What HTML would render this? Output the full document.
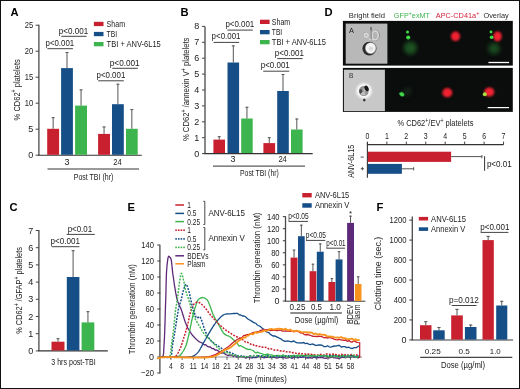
<!DOCTYPE html>
<html><head><meta charset="utf-8"><style>
html,body{margin:0;padding:0;background:#fff;}
body{width:520px;height:389px;overflow:hidden;}
svg{display:block;will-change:transform;}
text{font-family:"Liberation Sans",sans-serif;}
</style></head><body>
<svg width="520" height="389" viewBox="0 0 520 389" font-family="Liberation Sans, sans-serif">
<rect x="0" y="0" width="520" height="389" fill="#fff"/>
<text x="10.4" y="16.4" font-size="11.2" fill="#000" font-weight="bold">A</text>
<line x1="38.9" y1="24.8" x2="38.9" y2="155.2" stroke="#4a4a4a" stroke-width="1.3"/>
<line x1="35.6" y1="155.2" x2="38.9" y2="155.2" stroke="#444" stroke-width="1"/>
<text x="33.3" y="158.2" font-size="9.5" fill="#222" text-anchor="end" textLength="5.02" lengthAdjust="spacingAndGlyphs">0</text>
<line x1="35.6" y1="129.2" x2="38.9" y2="129.2" stroke="#444" stroke-width="1"/>
<text x="33.3" y="132.2" font-size="9.5" fill="#222" text-anchor="end" textLength="5.02" lengthAdjust="spacingAndGlyphs">5</text>
<line x1="35.6" y1="103.19999999999999" x2="38.9" y2="103.19999999999999" stroke="#444" stroke-width="1"/>
<text x="33.3" y="106.19999999999999" font-size="9.5" fill="#222" text-anchor="end" textLength="8.45" lengthAdjust="spacingAndGlyphs">10</text>
<line x1="35.6" y1="77.19999999999999" x2="38.9" y2="77.19999999999999" stroke="#444" stroke-width="1"/>
<text x="33.3" y="80.19999999999999" font-size="9.5" fill="#222" text-anchor="end" textLength="8.45" lengthAdjust="spacingAndGlyphs">15</text>
<line x1="35.6" y1="51.19999999999999" x2="38.9" y2="51.19999999999999" stroke="#444" stroke-width="1"/>
<text x="33.3" y="54.19999999999999" font-size="9.5" fill="#222" text-anchor="end" textLength="8.45" lengthAdjust="spacingAndGlyphs">20</text>
<line x1="35.6" y1="25.19999999999999" x2="38.9" y2="25.19999999999999" stroke="#444" stroke-width="1"/>
<text x="33.3" y="28.19999999999999" font-size="9.5" fill="#222" text-anchor="end" textLength="8.45" lengthAdjust="spacingAndGlyphs">25</text>
<line x1="38.3" y1="155.2" x2="141.7" y2="155.2" stroke="#333" stroke-width="1.1"/>
<rect x="47.2" y="128.8" width="11.899999999999999" height="26.0" fill="#c8202f"/>
<line x1="53.150000000000006" y1="117.2" x2="53.150000000000006" y2="128.8" stroke="#555" stroke-width="1"/>
<line x1="51.650000000000006" y1="117.7" x2="54.650000000000006" y2="117.7" stroke="#555" stroke-width="1"/>
<rect x="61.1" y="68.1" width="11.800000000000004" height="86.70000000000002" fill="#164f88"/>
<line x1="67.0" y1="52" x2="67.0" y2="68.1" stroke="#555" stroke-width="1"/>
<line x1="65.5" y1="52.5" x2="68.5" y2="52.5" stroke="#555" stroke-width="1"/>
<rect x="75.1" y="105.6" width="11.900000000000006" height="49.20000000000002" fill="#3db54e"/>
<line x1="81.05" y1="89.4" x2="81.05" y2="105.6" stroke="#555" stroke-width="1"/>
<line x1="79.55" y1="89.9" x2="82.55" y2="89.9" stroke="#555" stroke-width="1"/>
<rect x="98.1" y="133.9" width="11.900000000000006" height="20.900000000000006" fill="#c8202f"/>
<line x1="104.05" y1="126.5" x2="104.05" y2="133.9" stroke="#555" stroke-width="1"/>
<line x1="102.55" y1="127.0" x2="105.55" y2="127.0" stroke="#555" stroke-width="1"/>
<rect x="112" y="104.2" width="11.799999999999997" height="50.60000000000001" fill="#164f88"/>
<line x1="117.9" y1="83.7" x2="117.9" y2="104.2" stroke="#555" stroke-width="1"/>
<line x1="116.4" y1="84.2" x2="119.4" y2="84.2" stroke="#555" stroke-width="1"/>
<rect x="126" y="128.8" width="11.699999999999989" height="26.0" fill="#3db54e"/>
<line x1="131.85" y1="109.1" x2="131.85" y2="128.8" stroke="#555" stroke-width="1"/>
<line x1="130.35" y1="109.6" x2="133.35" y2="109.6" stroke="#555" stroke-width="1"/>
<text x="45.5" y="46" font-size="9" fill="#222" textLength="28.7" lengthAdjust="spacingAndGlyphs">p&lt;0.001</text>
<line x1="47.4" y1="48.7" x2="72.9" y2="48.7" stroke="#444" stroke-width="1"/>
<text x="58.8" y="33.9" font-size="9" fill="#222" textLength="29.4" lengthAdjust="spacingAndGlyphs">p&lt;0.001</text>
<line x1="61.3" y1="36.3" x2="86.6" y2="36.3" stroke="#444" stroke-width="1"/>
<text x="96.5" y="78.2" font-size="9" fill="#222" textLength="28.8" lengthAdjust="spacingAndGlyphs">p&lt;0.001</text>
<line x1="98.2" y1="80.8" x2="123.8" y2="80.8" stroke="#444" stroke-width="1"/>
<text x="109.8" y="66" font-size="9" fill="#222" textLength="29.9" lengthAdjust="spacingAndGlyphs">p&lt;0.001</text>
<line x1="112.3" y1="68.3" x2="137.8" y2="68.3" stroke="#444" stroke-width="1"/>
<rect x="93.9" y="21.8" width="9.6" height="4.3" fill="#c8202f"/>
<text x="106.6" y="26.700000000000003" font-size="8.6" fill="#222" textLength="18.4" lengthAdjust="spacingAndGlyphs">Sham</text>
<rect x="93.9" y="31.9" width="9.6" height="4.3" fill="#164f88"/>
<text x="106.6" y="36.8" font-size="8.6" fill="#222" textLength="10.4" lengthAdjust="spacingAndGlyphs">TBI</text>
<rect x="93.9" y="42" width="9.6" height="4.3" fill="#3db54e"/>
<text x="106.6" y="46.9" font-size="8.6" fill="#222" textLength="54.2" lengthAdjust="spacingAndGlyphs">TBI + ANV-6L15</text>
<text x="67" y="164.9" font-size="9.5" fill="#222" text-anchor="middle" textLength="5.02" lengthAdjust="spacingAndGlyphs">3</text>
<text x="117.5" y="164.9" font-size="9.5" fill="#222" text-anchor="middle" textLength="8.45" lengthAdjust="spacingAndGlyphs">24</text>
<line x1="47.5" y1="168.9" x2="139" y2="168.9" stroke="#787878" stroke-width="1.5"/>
<text x="73.8" y="179.5" font-size="9" fill="#222" textLength="39.5" lengthAdjust="spacingAndGlyphs">Post TBI (hr)</text>
<text x="19.6" y="89.8" font-size="9.2" fill="#222" text-anchor="middle" textLength="61.2" lengthAdjust="spacingAndGlyphs" transform="rotate(-90 19.6 89.8)">% CD62<tspan dy="-3.3" font-size="6.4">+</tspan><tspan dy="3.3"> platelets</tspan></text>
<text x="180.4" y="16" font-size="11.2" fill="#000" font-weight="bold">B</text>
<line x1="205" y1="26.4" x2="205" y2="153.6" stroke="#4a4a4a" stroke-width="1.3"/>
<line x1="202" y1="153.6" x2="205" y2="153.6" stroke="#444" stroke-width="1"/>
<text x="199.3" y="156.6" font-size="9.5" fill="#222" text-anchor="end" textLength="5.02" lengthAdjust="spacingAndGlyphs">0</text>
<line x1="202" y1="137.7" x2="205" y2="137.7" stroke="#444" stroke-width="1"/>
<text x="199.3" y="140.7" font-size="9.5" fill="#222" text-anchor="end" textLength="5.02" lengthAdjust="spacingAndGlyphs">1</text>
<line x1="202" y1="121.8" x2="205" y2="121.8" stroke="#444" stroke-width="1"/>
<text x="199.3" y="124.8" font-size="9.5" fill="#222" text-anchor="end" textLength="5.02" lengthAdjust="spacingAndGlyphs">2</text>
<line x1="202" y1="105.89999999999999" x2="205" y2="105.89999999999999" stroke="#444" stroke-width="1"/>
<text x="199.3" y="108.89999999999999" font-size="9.5" fill="#222" text-anchor="end" textLength="5.02" lengthAdjust="spacingAndGlyphs">3</text>
<line x1="202" y1="90.0" x2="205" y2="90.0" stroke="#444" stroke-width="1"/>
<text x="199.3" y="93.0" font-size="9.5" fill="#222" text-anchor="end" textLength="5.02" lengthAdjust="spacingAndGlyphs">4</text>
<line x1="202" y1="74.1" x2="205" y2="74.1" stroke="#444" stroke-width="1"/>
<text x="199.3" y="77.1" font-size="9.5" fill="#222" text-anchor="end" textLength="5.02" lengthAdjust="spacingAndGlyphs">5</text>
<line x1="202" y1="58.19999999999999" x2="205" y2="58.19999999999999" stroke="#444" stroke-width="1"/>
<text x="199.3" y="61.19999999999999" font-size="9.5" fill="#222" text-anchor="end" textLength="5.02" lengthAdjust="spacingAndGlyphs">6</text>
<line x1="202" y1="42.3" x2="205" y2="42.3" stroke="#444" stroke-width="1"/>
<text x="199.3" y="45.3" font-size="9.5" fill="#222" text-anchor="end" textLength="5.02" lengthAdjust="spacingAndGlyphs">7</text>
<line x1="202" y1="26.39999999999999" x2="205" y2="26.39999999999999" stroke="#444" stroke-width="1"/>
<text x="199.3" y="29.39999999999999" font-size="9.5" fill="#222" text-anchor="end" textLength="5.02" lengthAdjust="spacingAndGlyphs">8</text>
<line x1="204.5" y1="153.6" x2="312.7" y2="153.6" stroke="#333" stroke-width="1.1"/>
<rect x="213.4" y="139.6" width="11.599999999999994" height="13.400000000000006" fill="#c8202f"/>
<line x1="219.2" y1="136.2" x2="219.2" y2="139.6" stroke="#555" stroke-width="1"/>
<line x1="217.7" y1="136.7" x2="220.7" y2="136.7" stroke="#555" stroke-width="1"/>
<rect x="227.5" y="62.5" width="11.599999999999994" height="90.5" fill="#164f88"/>
<line x1="233.3" y1="45.4" x2="233.3" y2="62.5" stroke="#555" stroke-width="1"/>
<line x1="231.8" y1="45.9" x2="234.8" y2="45.9" stroke="#555" stroke-width="1"/>
<rect x="241.2" y="118.5" width="11.5" height="34.5" fill="#3db54e"/>
<line x1="246.95" y1="106.8" x2="246.95" y2="118.5" stroke="#555" stroke-width="1"/>
<line x1="245.45" y1="107.3" x2="248.45" y2="107.3" stroke="#555" stroke-width="1"/>
<rect x="263.4" y="143.1" width="11.700000000000045" height="9.900000000000006" fill="#c8202f"/>
<line x1="269.25" y1="137.2" x2="269.25" y2="143.1" stroke="#555" stroke-width="1"/>
<line x1="267.75" y1="137.7" x2="270.75" y2="137.7" stroke="#555" stroke-width="1"/>
<rect x="277.2" y="91" width="11.600000000000023" height="62" fill="#164f88"/>
<line x1="283.0" y1="74" x2="283.0" y2="91" stroke="#555" stroke-width="1"/>
<line x1="281.5" y1="74.5" x2="284.5" y2="74.5" stroke="#555" stroke-width="1"/>
<rect x="291" y="129.5" width="11.600000000000023" height="23.5" fill="#3db54e"/>
<line x1="296.8" y1="118.5" x2="296.8" y2="129.5" stroke="#555" stroke-width="1"/>
<line x1="295.3" y1="119.0" x2="298.3" y2="119.0" stroke="#555" stroke-width="1"/>
<text x="225.4" y="27.1" font-size="9" fill="#222" textLength="28.9" lengthAdjust="spacingAndGlyphs">p&lt;0.001</text>
<line x1="227.4" y1="30.1" x2="252.8" y2="30.1" stroke="#444" stroke-width="1"/>
<text x="211.6" y="39.3" font-size="9" fill="#222" textLength="28.9" lengthAdjust="spacingAndGlyphs">p&lt;0.001</text>
<line x1="213.5" y1="42.4" x2="239.2" y2="42.4" stroke="#444" stroke-width="1"/>
<text x="274.8" y="56.1" font-size="9" fill="#222" textLength="29.2" lengthAdjust="spacingAndGlyphs">p&lt;0.001</text>
<line x1="277.2" y1="58.6" x2="302.6" y2="58.6" stroke="#444" stroke-width="1"/>
<text x="260.8" y="68.2" font-size="9" fill="#222" textLength="29.0" lengthAdjust="spacingAndGlyphs">p&lt;0.001</text>
<line x1="263.2" y1="71.2" x2="289.2" y2="71.2" stroke="#444" stroke-width="1"/>
<rect x="260" y="19.7" width="9.6" height="4.3" fill="#c8202f"/>
<text x="271.8" y="24.6" font-size="8.6" fill="#222" textLength="18.4" lengthAdjust="spacingAndGlyphs">Sham</text>
<rect x="260" y="30" width="9.6" height="4.3" fill="#164f88"/>
<text x="271.8" y="34.9" font-size="8.6" fill="#222" textLength="10.4" lengthAdjust="spacingAndGlyphs">TBI</text>
<rect x="260" y="40" width="9.6" height="4.3" fill="#3db54e"/>
<text x="271.8" y="44.9" font-size="8.6" fill="#222" textLength="54.2" lengthAdjust="spacingAndGlyphs">TBI + ANV-6L15</text>
<text x="233" y="162.2" font-size="9.5" fill="#222" text-anchor="middle" textLength="5.02" lengthAdjust="spacingAndGlyphs">3</text>
<text x="282.6" y="162.2" font-size="9.5" fill="#222" text-anchor="middle" textLength="8.45" lengthAdjust="spacingAndGlyphs">24</text>
<line x1="213" y1="166.1" x2="305" y2="166.1" stroke="#5c5c5c" stroke-width="1.3"/>
<text x="240" y="176" font-size="9" fill="#222" textLength="38.8" lengthAdjust="spacingAndGlyphs">Post TBI (hr)</text>
<text x="189" y="89.3" font-size="9.2" fill="#222" text-anchor="middle" textLength="103.5" lengthAdjust="spacingAndGlyphs" transform="rotate(-90 189 89.3)">% CD62<tspan dy="-3.3" font-size="6.4">+</tspan><tspan dy="3.3"> /annexin V</tspan><tspan dy="-3.3" font-size="6.4">+</tspan><tspan dy="3.3"> platelets</tspan></text>
<text x="9.4" y="210.7" font-size="11.2" fill="#000" font-weight="bold">C</text>
<line x1="38.9" y1="230" x2="38.9" y2="350.9" stroke="#4a4a4a" stroke-width="1.3"/>
<line x1="35.8" y1="350.9" x2="38.9" y2="350.9" stroke="#444" stroke-width="1"/>
<text x="33.3" y="353.9" font-size="9.5" fill="#222" text-anchor="end" textLength="5.02" lengthAdjust="spacingAndGlyphs">0</text>
<line x1="35.8" y1="333.7" x2="38.9" y2="333.7" stroke="#444" stroke-width="1"/>
<text x="33.3" y="336.7" font-size="9.5" fill="#222" text-anchor="end" textLength="5.02" lengthAdjust="spacingAndGlyphs">1</text>
<line x1="35.8" y1="316.5" x2="38.9" y2="316.5" stroke="#444" stroke-width="1"/>
<text x="33.3" y="319.5" font-size="9.5" fill="#222" text-anchor="end" textLength="5.02" lengthAdjust="spacingAndGlyphs">2</text>
<line x1="35.8" y1="299.29999999999995" x2="38.9" y2="299.29999999999995" stroke="#444" stroke-width="1"/>
<text x="33.3" y="302.29999999999995" font-size="9.5" fill="#222" text-anchor="end" textLength="5.02" lengthAdjust="spacingAndGlyphs">3</text>
<line x1="35.8" y1="282.09999999999997" x2="38.9" y2="282.09999999999997" stroke="#444" stroke-width="1"/>
<text x="33.3" y="285.09999999999997" font-size="9.5" fill="#222" text-anchor="end" textLength="5.02" lengthAdjust="spacingAndGlyphs">4</text>
<line x1="35.8" y1="264.9" x2="38.9" y2="264.9" stroke="#444" stroke-width="1"/>
<text x="33.3" y="267.9" font-size="9.5" fill="#222" text-anchor="end" textLength="5.02" lengthAdjust="spacingAndGlyphs">5</text>
<line x1="35.8" y1="247.7" x2="38.9" y2="247.7" stroke="#444" stroke-width="1"/>
<text x="33.3" y="250.7" font-size="9.5" fill="#222" text-anchor="end" textLength="5.02" lengthAdjust="spacingAndGlyphs">6</text>
<line x1="35.8" y1="230.5" x2="38.9" y2="230.5" stroke="#444" stroke-width="1"/>
<text x="33.3" y="233.5" font-size="9.5" fill="#222" text-anchor="end" textLength="5.02" lengthAdjust="spacingAndGlyphs">7</text>
<line x1="38.3" y1="350.9" x2="107.8" y2="350.9" stroke="#333" stroke-width="1.1"/>
<rect x="51.5" y="341.7" width="13.0" height="8.800000000000011" fill="#c8202f"/>
<line x1="58.0" y1="338.2" x2="58.0" y2="341.7" stroke="#555" stroke-width="1"/>
<line x1="56.5" y1="338.7" x2="59.5" y2="338.7" stroke="#555" stroke-width="1"/>
<rect x="66.8" y="277" width="12.600000000000009" height="73.5" fill="#164f88"/>
<line x1="73.1" y1="250.2" x2="73.1" y2="277" stroke="#555" stroke-width="1"/>
<line x1="71.6" y1="250.7" x2="74.6" y2="250.7" stroke="#555" stroke-width="1"/>
<rect x="81.6" y="322.4" width="12.700000000000003" height="28.100000000000023" fill="#3db54e"/>
<line x1="87.94999999999999" y1="311.2" x2="87.94999999999999" y2="322.4" stroke="#555" stroke-width="1"/>
<line x1="86.44999999999999" y1="311.7" x2="89.44999999999999" y2="311.7" stroke="#555" stroke-width="1"/>
<text x="50.6" y="243.6" font-size="9" fill="#222" textLength="29.4" lengthAdjust="spacingAndGlyphs">p&lt;0.001</text>
<line x1="51.6" y1="246.7" x2="79.4" y2="246.7" stroke="#444" stroke-width="1"/>
<text x="67.7" y="231.8" font-size="9" fill="#222" textLength="24.4" lengthAdjust="spacingAndGlyphs">p&lt;0.01</text>
<line x1="66.6" y1="234.4" x2="94.8" y2="234.4" stroke="#444" stroke-width="1"/>
<text x="51.3" y="364.6" font-size="9" fill="#222" textLength="44.4" lengthAdjust="spacingAndGlyphs">3 hrs post-TBI</text>
<text x="22" y="290.4" font-size="9.2" fill="#222" text-anchor="middle" textLength="86.7" lengthAdjust="spacingAndGlyphs" transform="rotate(-90 22 290.4)">% CD62<tspan dy="-3.3" font-size="6.4">+</tspan><tspan dy="3.3"> /GFAP</tspan><tspan dy="-3.3" font-size="6.4">+</tspan><tspan dy="3.3"> platelets</tspan></text>
<text x="324.4" y="15.8" font-size="11.2" fill="#000" font-weight="bold">D</text>
<text x="348.8" y="18" font-size="7.9" fill="#2a2a2a" textLength="36.2" lengthAdjust="spacingAndGlyphs">Bright field</text>
<text x="393.8" y="18" font-size="7.9" fill="#3db54e" textLength="36.2" lengthAdjust="spacingAndGlyphs">GFP<tspan dy="-3" font-size="5.8">+</tspan><tspan dy="3">exMT</tspan></text>
<text x="435.8" y="18" font-size="7.9" fill="#d2203a" textLength="43.5" lengthAdjust="spacingAndGlyphs">APC-CD41a<tspan dy="-3" font-size="5.8">+</tspan></text>
<text x="483.4" y="18" font-size="7.9" fill="#2a2a2a" textLength="25.4" lengthAdjust="spacingAndGlyphs">Overlay</text>
<defs>
<filter id="b1" x="-50%" y="-50%" width="200%" height="200%"><feGaussianBlur stdDeviation="1.1"/></filter>
<filter id="b2" x="-50%" y="-50%" width="200%" height="200%"><feGaussianBlur stdDeviation="0.6"/></filter>
<filter id="b4" x="-50%" y="-50%" width="200%" height="200%"><feGaussianBlur stdDeviation="0.9"/></filter>
<filter id="b3" x="-50%" y="-50%" width="200%" height="200%"><feGaussianBlur stdDeviation="2"/></filter>
</defs>
<rect x="342.9" y="20.9" width="169.9" height="44.7" fill="#0b0d0c"/>
<rect x="345.7" y="23.6" width="41.7" height="40.1" fill="#b8b8b8"/>
<g filter="url(#b2)"><ellipse cx="369.3" cy="48.6" rx="6.9" ry="6.8" fill="#2a2a2a"/><ellipse cx="370.9" cy="48.2" rx="5.9" ry="6" fill="#7a7a7a"/><ellipse cx="370.6" cy="48.1" rx="5.1" ry="5.3" fill="#f4f4f4"/><ellipse cx="371" cy="48.6" rx="2.3" ry="2.2" fill="#dadada"/></g>
<g filter="url(#b2)" opacity="0.8"><circle cx="366.2" cy="35.2" r="2.9" fill="none" stroke="#8a8a8a" stroke-width="0.8"/><circle cx="366.2" cy="35.2" r="2.1" fill="#c4c4c4" stroke="#e8e8e8" stroke-width="1.2"/><ellipse cx="375.6" cy="35.4" rx="3.9" ry="5.2" fill="none" stroke="#7c7c7c" stroke-width="0.8"/><ellipse cx="375.2" cy="35.4" rx="3" ry="4.4" fill="#b4b4b4" stroke="#e4e4e4" stroke-width="1.3"/><path d="M371 27.2 L371.3 41.5" stroke="#7e7e7e" stroke-width="1.1"/><path d="M371 27 L371.1 30.5" stroke="#5a5a5a" stroke-width="1.5"/><path d="M368.5 38.5 Q371 41 373.5 39.5" stroke="#dcdcdc" stroke-width="1" fill="none"/></g>
<text x="349" y="32.8" font-size="7.3" fill="#1a1a1a" textLength="4.9" lengthAdjust="spacingAndGlyphs">A</text>
<g filter="url(#b2)"><circle cx="407.5" cy="32" r="1.5" fill="#3fe04a"/><circle cx="408.2" cy="37.4" r="2" fill="#3fe04a"/></g>
<ellipse cx="410.4" cy="48" rx="6.5" ry="6.5" fill="#236a2c" opacity="0.75" filter="url(#b3)"/>
<ellipse cx="455.5" cy="36.3" rx="4.6" ry="4.8" fill="#f02030" filter="url(#b1)"/>
<ellipse cx="494" cy="48.5" rx="5.8" ry="5.8" fill="#236a2c" opacity="0.65" filter="url(#b3)"/>
<ellipse cx="497.5" cy="36.4" rx="4.2" ry="5" fill="#f02030" filter="url(#b1)"/>
<g filter="url(#b2)"><circle cx="491" cy="32" r="1.4" fill="#3fe04a"/><circle cx="491.6" cy="37.3" r="1.8" fill="#3fe04a"/></g>
<line x1="488.4" y1="62.5" x2="509.1" y2="62.5" stroke="#fff" stroke-width="1.3"/>
<rect x="342.9" y="67.9" width="169.9" height="44" fill="#0b0d0c"/>
<rect x="343.9" y="69.7" width="41" height="41.4" fill="#c8c8c8"/>
<circle cx="364" cy="90.9" r="7.7" fill="#fafafa" filter="url(#b4)"/>
<g filter="url(#b2)"><ellipse cx="363.8" cy="91.1" rx="4.9" ry="5" fill="#929292"/><ellipse cx="363.2" cy="93.6" rx="2.4" ry="1.5" fill="#c4c4c4"/><ellipse cx="364.6" cy="90" rx="1.2" ry="2" fill="#bdbdbd"/><ellipse cx="360.7" cy="91.3" rx="1.4" ry="2.4" fill="#4a4a4a"/><ellipse cx="366.6" cy="88.4" rx="1.9" ry="3" fill="#141414" transform="rotate(-25 366.6 88.4)"/><circle cx="364.3" cy="100.1" r="1.3" fill="#333"/></g>
<text x="349" y="78.4" font-size="7.3" fill="#333" textLength="4.4" lengthAdjust="spacingAndGlyphs">B</text>
<ellipse cx="407.3" cy="91.5" rx="4" ry="4" fill="#1f3a22" opacity="0.5" filter="url(#b3)"/>
<ellipse cx="401.8" cy="94.3" rx="2.6" ry="2" fill="#3fe04a" filter="url(#b2)" transform="rotate(30 401.8 94.3)"/>
<ellipse cx="447.3" cy="92.7" rx="5" ry="4.6" fill="#f02030" filter="url(#b1)"/>
<ellipse cx="489.3" cy="92" rx="5" ry="4.6" fill="#f02030" filter="url(#b1)"/>
<ellipse cx="484.8" cy="94.2" rx="2" ry="2" fill="#a8e040" filter="url(#b2)"/>
<line x1="487.7" y1="107.6" x2="509" y2="107.6" stroke="#fff" stroke-width="1.2"/>
<text x="397.4" y="125.9" font-size="9.2" fill="#222" textLength="76" lengthAdjust="spacingAndGlyphs">% CD62<tspan dy="-3.3" font-size="6.4">+</tspan><tspan dy="3.3">/EV</tspan><tspan dy="-3.3" font-size="6.4">+</tspan><tspan dy="3.3"> platelets</tspan></text>
<line x1="367.4" y1="144.6" x2="503.6" y2="144.6" stroke="#333" stroke-width="1.1"/>
<line x1="367.4" y1="141.6" x2="367.4" y2="144.6" stroke="#444" stroke-width="1"/>
<text x="367.4" y="138.5" font-size="8.2" fill="#222" text-anchor="middle" textLength="3.88" lengthAdjust="spacingAndGlyphs">0</text>
<line x1="386.84999999999997" y1="141.6" x2="386.84999999999997" y2="144.6" stroke="#444" stroke-width="1"/>
<text x="386.84999999999997" y="138.5" font-size="8.2" fill="#222" text-anchor="middle" textLength="3.88" lengthAdjust="spacingAndGlyphs">1</text>
<line x1="406.29999999999995" y1="141.6" x2="406.29999999999995" y2="144.6" stroke="#444" stroke-width="1"/>
<text x="406.29999999999995" y="138.5" font-size="8.2" fill="#222" text-anchor="middle" textLength="3.88" lengthAdjust="spacingAndGlyphs">2</text>
<line x1="425.75" y1="141.6" x2="425.75" y2="144.6" stroke="#444" stroke-width="1"/>
<text x="425.75" y="138.5" font-size="8.2" fill="#222" text-anchor="middle" textLength="3.88" lengthAdjust="spacingAndGlyphs">3</text>
<line x1="445.2" y1="141.6" x2="445.2" y2="144.6" stroke="#444" stroke-width="1"/>
<text x="445.2" y="138.5" font-size="8.2" fill="#222" text-anchor="middle" textLength="3.88" lengthAdjust="spacingAndGlyphs">4</text>
<line x1="464.65" y1="141.6" x2="464.65" y2="144.6" stroke="#444" stroke-width="1"/>
<text x="464.65" y="138.5" font-size="8.2" fill="#222" text-anchor="middle" textLength="3.88" lengthAdjust="spacingAndGlyphs">5</text>
<line x1="484.09999999999997" y1="141.6" x2="484.09999999999997" y2="144.6" stroke="#444" stroke-width="1"/>
<text x="484.09999999999997" y="138.5" font-size="8.2" fill="#222" text-anchor="middle" textLength="3.88" lengthAdjust="spacingAndGlyphs">6</text>
<line x1="503.54999999999995" y1="141.6" x2="503.54999999999995" y2="144.6" stroke="#444" stroke-width="1"/>
<text x="503.54999999999995" y="138.5" font-size="8.2" fill="#222" text-anchor="middle" textLength="3.88" lengthAdjust="spacingAndGlyphs">7</text>
<line x1="367.4" y1="142.5" x2="367.4" y2="177.7" stroke="#333" stroke-width="1.1"/>
<rect x="367.9" y="151.7" width="83.20000000000005" height="10.2" fill="#c8202f"/>
<rect x="367.9" y="163.9" width="34.0" height="9.9" fill="#164f88"/>
<line x1="451.1" y1="156.6" x2="481.9" y2="156.6" stroke="#555" stroke-width="1"/>
<line x1="481.9" y1="155" x2="481.9" y2="158.2" stroke="#555" stroke-width="1"/>
<line x1="401.9" y1="168.8" x2="413.7" y2="168.8" stroke="#555" stroke-width="1"/>
<line x1="413.7" y1="167.2" x2="413.7" y2="170.4" stroke="#555" stroke-width="1"/>
<line x1="484.6" y1="156.2" x2="484.6" y2="170.8" stroke="#333" stroke-width="1"/>
<text x="486.9" y="166.7" font-size="9" fill="#222" textLength="24.8" lengthAdjust="spacingAndGlyphs">p&lt;0.01</text>
<line x1="360.6" y1="157.1" x2="363.8" y2="157.1" stroke="#444" stroke-width="0.9"/>
<line x1="360.8" y1="168.7" x2="364" y2="168.7" stroke="#444" stroke-width="0.9"/>
<line x1="362.4" y1="167.1" x2="362.4" y2="170.3" stroke="#444" stroke-width="0.9"/>
<text x="353.6" y="161.2" font-size="9.4" fill="#222" text-anchor="middle" textLength="33" lengthAdjust="spacingAndGlyphs" transform="rotate(-90 353.6 161.2)">ANV-6L15</text>
<text x="127.4" y="210.7" font-size="11.2" fill="#000" font-weight="bold">E</text>
<line x1="159.9" y1="245.2" x2="159.9" y2="373.3" stroke="#4a4a4a" stroke-width="1.3"/>
<line x1="157.3" y1="373.0" x2="160.3" y2="373.0" stroke="#3a3a3a" stroke-width="1"/>
<text x="154" y="376.1" font-size="9.5" fill="#222" text-anchor="end" textLength="12.89" lengthAdjust="spacingAndGlyphs">&#8722;20</text>
<line x1="157.3" y1="357.0" x2="160.3" y2="357.0" stroke="#3a3a3a" stroke-width="1"/>
<text x="154" y="360.1" font-size="9.5" fill="#222" text-anchor="end" textLength="5.02" lengthAdjust="spacingAndGlyphs">0</text>
<line x1="157.3" y1="341.0" x2="160.3" y2="341.0" stroke="#3a3a3a" stroke-width="1"/>
<text x="154" y="344.1" font-size="9.5" fill="#222" text-anchor="end" textLength="8.45" lengthAdjust="spacingAndGlyphs">20</text>
<line x1="157.3" y1="325.0" x2="160.3" y2="325.0" stroke="#3a3a3a" stroke-width="1"/>
<text x="154" y="328.1" font-size="9.5" fill="#222" text-anchor="end" textLength="8.45" lengthAdjust="spacingAndGlyphs">40</text>
<line x1="157.3" y1="309.0" x2="160.3" y2="309.0" stroke="#3a3a3a" stroke-width="1"/>
<text x="154" y="312.1" font-size="9.5" fill="#222" text-anchor="end" textLength="8.45" lengthAdjust="spacingAndGlyphs">60</text>
<line x1="157.3" y1="293.0" x2="160.3" y2="293.0" stroke="#3a3a3a" stroke-width="1"/>
<text x="154" y="296.1" font-size="9.5" fill="#222" text-anchor="end" textLength="8.45" lengthAdjust="spacingAndGlyphs">80</text>
<line x1="157.3" y1="277.0" x2="160.3" y2="277.0" stroke="#3a3a3a" stroke-width="1"/>
<text x="154" y="280.1" font-size="9.5" fill="#222" text-anchor="end" textLength="12.68" lengthAdjust="spacingAndGlyphs">100</text>
<line x1="157.3" y1="261.0" x2="160.3" y2="261.0" stroke="#3a3a3a" stroke-width="1"/>
<text x="154" y="264.1" font-size="9.5" fill="#222" text-anchor="end" textLength="12.68" lengthAdjust="spacingAndGlyphs">120</text>
<line x1="157.3" y1="245.0" x2="160.3" y2="245.0" stroke="#3a3a3a" stroke-width="1"/>
<text x="154" y="248.1" font-size="9.5" fill="#222" text-anchor="end" textLength="12.68" lengthAdjust="spacingAndGlyphs">140</text>
<line x1="160" y1="357" x2="362" y2="357" stroke="#777" stroke-width="0.8"/>
<line x1="170.9" y1="357" x2="170.9" y2="359.8" stroke="#444" stroke-width="0.9"/>
<text x="170.9" y="368.8" font-size="8.3" fill="#222" text-anchor="middle" textLength="3.78" lengthAdjust="spacingAndGlyphs">4</text>
<line x1="182.12" y1="357" x2="182.12" y2="359.8" stroke="#444" stroke-width="0.9"/>
<text x="182.12" y="368.8" font-size="8.3" fill="#222" text-anchor="middle" textLength="3.78" lengthAdjust="spacingAndGlyphs">8</text>
<line x1="193.34" y1="357" x2="193.34" y2="359.8" stroke="#444" stroke-width="0.9"/>
<text x="193.34" y="368.8" font-size="8.3" fill="#222" text-anchor="middle" textLength="7.06" lengthAdjust="spacingAndGlyphs">11</text>
<line x1="204.56" y1="357" x2="204.56" y2="359.8" stroke="#444" stroke-width="0.9"/>
<text x="204.56" y="368.8" font-size="8.3" fill="#222" text-anchor="middle" textLength="7.57" lengthAdjust="spacingAndGlyphs">14</text>
<line x1="215.78" y1="357" x2="215.78" y2="359.8" stroke="#444" stroke-width="0.9"/>
<text x="215.78" y="368.8" font-size="8.3" fill="#222" text-anchor="middle" textLength="7.57" lengthAdjust="spacingAndGlyphs">18</text>
<line x1="227.0" y1="357" x2="227.0" y2="359.8" stroke="#444" stroke-width="0.9"/>
<text x="227.0" y="368.8" font-size="8.3" fill="#222" text-anchor="middle" textLength="7.57" lengthAdjust="spacingAndGlyphs">21</text>
<line x1="238.22000000000003" y1="357" x2="238.22000000000003" y2="359.8" stroke="#444" stroke-width="0.9"/>
<text x="238.22000000000003" y="368.8" font-size="8.3" fill="#222" text-anchor="middle" textLength="7.57" lengthAdjust="spacingAndGlyphs">24</text>
<line x1="249.44" y1="357" x2="249.44" y2="359.8" stroke="#444" stroke-width="0.9"/>
<text x="249.44" y="368.8" font-size="8.3" fill="#222" text-anchor="middle" textLength="7.57" lengthAdjust="spacingAndGlyphs">28</text>
<line x1="260.66" y1="357" x2="260.66" y2="359.8" stroke="#444" stroke-width="0.9"/>
<text x="260.66" y="368.8" font-size="8.3" fill="#222" text-anchor="middle" textLength="7.57" lengthAdjust="spacingAndGlyphs">31</text>
<line x1="271.88" y1="357" x2="271.88" y2="359.8" stroke="#444" stroke-width="0.9"/>
<text x="271.88" y="368.8" font-size="8.3" fill="#222" text-anchor="middle" textLength="7.57" lengthAdjust="spacingAndGlyphs">34</text>
<line x1="283.1" y1="357" x2="283.1" y2="359.8" stroke="#444" stroke-width="0.9"/>
<text x="283.1" y="368.8" font-size="8.3" fill="#222" text-anchor="middle" textLength="7.57" lengthAdjust="spacingAndGlyphs">38</text>
<line x1="294.32" y1="357" x2="294.32" y2="359.8" stroke="#444" stroke-width="0.9"/>
<text x="294.32" y="368.8" font-size="8.3" fill="#222" text-anchor="middle" textLength="7.57" lengthAdjust="spacingAndGlyphs">41</text>
<line x1="305.54" y1="357" x2="305.54" y2="359.8" stroke="#444" stroke-width="0.9"/>
<text x="305.54" y="368.8" font-size="8.3" fill="#222" text-anchor="middle" textLength="7.57" lengthAdjust="spacingAndGlyphs">44</text>
<line x1="316.76" y1="357" x2="316.76" y2="359.8" stroke="#444" stroke-width="0.9"/>
<text x="316.76" y="368.8" font-size="8.3" fill="#222" text-anchor="middle" textLength="7.57" lengthAdjust="spacingAndGlyphs">48</text>
<line x1="327.98" y1="357" x2="327.98" y2="359.8" stroke="#444" stroke-width="0.9"/>
<text x="327.98" y="368.8" font-size="8.3" fill="#222" text-anchor="middle" textLength="7.57" lengthAdjust="spacingAndGlyphs">51</text>
<line x1="339.20000000000005" y1="357" x2="339.20000000000005" y2="359.8" stroke="#444" stroke-width="0.9"/>
<text x="339.20000000000005" y="368.8" font-size="8.3" fill="#222" text-anchor="middle" textLength="7.57" lengthAdjust="spacingAndGlyphs">54</text>
<line x1="350.42" y1="357" x2="350.42" y2="359.8" stroke="#444" stroke-width="0.9"/>
<text x="350.42" y="368.8" font-size="8.3" fill="#222" text-anchor="middle" textLength="7.57" lengthAdjust="spacingAndGlyphs">58</text>
<text x="235.9" y="381.8" font-size="8.8" fill="#222" textLength="50.8" lengthAdjust="spacingAndGlyphs">Time (minutes)</text>
<text x="135.3" y="309.2" font-size="8.6" fill="#222" text-anchor="middle" textLength="90" lengthAdjust="spacingAndGlyphs" transform="rotate(-90 135.3 309.2)">Thrombin generation (nM)</text>
<path d="M160.0 357.5 L162.6 356.5 L163.1 355.6 L163.4 354.4 L163.6 352.9 L163.7 351.1 L163.8 349.2 L163.9 347.2 L164.0 345.0 L164.1 343.9 L164.2 342.7 L164.2 341.4 L164.3 340.1 L164.4 338.7 L164.5 337.2 L164.5 335.7 L164.6 334.1 L164.7 332.5 L164.7 330.9 L164.8 329.2 L164.8 327.5 L164.9 325.7 L165.0 324.0 L165.0 322.2 L165.1 320.4 L165.1 318.6 L165.2 316.8 L165.2 315.0 L165.3 313.3 L165.3 311.5 L165.4 309.8 L165.4 308.0 L165.5 306.4 L165.5 304.7 L165.6 303.1 L165.6 301.5 L165.7 300.0 L165.8 298.3 L165.8 296.5 L165.9 294.7 L165.9 292.9 L166.0 291.1 L166.0 289.3 L166.0 287.6 L166.1 285.8 L166.1 284.0 L166.2 282.3 L166.2 280.6 L166.3 278.9 L166.3 277.2 L166.4 275.6 L166.4 274.1 L166.5 272.6 L166.6 271.1 L166.7 269.7 L166.8 268.4 L166.9 267.2 L167.0 266.0 L167.2 263.8 L167.5 261.6 L167.7 259.6 L168.0 257.9 L168.4 256.7 L168.8 256.2 L170.6 258.0 L171.0 259.0 L171.3 260.2 L171.5 261.7 L171.7 263.4 L171.9 265.2 L172.1 267.1 L172.3 269.1 L172.5 271.1 L172.7 273.1 L173.0 275.0 L173.2 276.6 L173.5 278.2 L173.7 279.9 L174.0 281.7 L174.2 283.5 L174.5 285.3 L174.8 287.1 L175.1 288.9 L175.4 290.7 L175.6 292.4 L176.0 294.1 L176.3 295.7 L176.6 297.3 L176.9 298.7 L177.3 300.0 L177.9 301.8 L178.5 303.4 L179.1 304.8 L179.8 306.2 L180.5 307.6 L181.1 309.2 L181.6 310.6 L182.1 312.1 L182.6 313.7 L183.1 315.3 L183.6 317.0 L184.1 318.6 L184.6 320.2 L185.1 321.7 L185.7 323.1 L186.4 324.8 L187.1 326.4 L187.8 328.0 L188.6 329.5 L189.5 330.9 L190.4 332.4 L191.3 333.7 L192.3 335.0 L193.4 336.2 L194.5 337.5 L195.6 338.6 L196.8 339.8 L198.0 340.8 L199.4 341.9 L201.0 342.5 L202.5 343.1 L204.1 344.8 L205.7 344.6 L207.3 346.3 L208.8 346.8 L210.4 347.0 L212.0 348.6 L213.5 348.5 L215.1 350.0 L216.6 350.0 L218.2 350.8 L219.6 352.0 L221.1 353.4 L222.7 352.7 L224.3 353.4 L226.0 354.6 L227.9 355.5 L229.8 355.2 L231.7 355.2 L233.4 356.5 L235.0 355.2 L236.8 357.2 L238.4 356.7 L240.0 356.9 L242.0 356.9 L244.0 357.2 L246.0 358.1 L248.0 356.9 L250.0 357.6 L252.0 357.8 L254.0 357.3 L256.0 357.6 L258.0 356.7 L260.0 356.7 L262.0 357.0 L264.0 357.8 L266.0 357.4 L268.0 357.2 L270.0 357.7 L272.0 357.4 L274.0 357.1 L276.0 358.0 L278.0 357.9 L280.0 357.0 L282.0 357.6 L284.0 357.5 L286.0 358.2 L288.0 357.9 L290.0 357.1 L292.0 358.4 L294.0 356.8 L296.0 357.4 L298.0 358.0 L300.0 356.9 L302.0 357.5 L304.0 356.7 L306.0 357.8 L308.0 358.0 L310.0 357.6 L312.0 358.2 L314.0 357.2 L316.0 357.9 L318.0 357.7 L320.0 357.6 L322.0 357.4 L324.0 358.1 L326.0 358.3 L328.0 357.5 L330.0 357.8 L332.0 356.7 L334.0 357.9 L336.0 357.8 L338.0 358.4 L340.0 358.1 L342.0 357.1 L344.0 357.3 L346.0 357.8 L348.0 356.6 L350.0 357.4 L352.0 356.9 L354.0 356.8 L356.0 356.7 L358.0 358.0 L360.0 356.8" fill="none" stroke="#5e2a78" stroke-width="1.3" stroke-linejoin="round"/>
<path d="M160.0 357.0 L161.7 357.0 L163.5 357.1 L165.3 357.1 L167.1 357.2 L169.0 357.3 L170.8 357.4 L172.5 357.4 L174.1 357.4 L175.6 357.3 L176.9 357.0 L178.0 356.7 L179.7 355.7 L180.9 354.5 L182.0 353.0 L183.0 351.5 L184.0 349.9 L184.9 348.1 L185.7 346.2 L186.3 344.7 L186.8 343.0 L187.3 341.3 L187.7 339.5 L188.1 337.7 L188.6 335.8 L189.0 334.0 L189.4 332.3 L189.8 330.5 L190.1 328.8 L190.5 327.0 L190.8 325.2 L191.2 323.4 L191.5 321.7 L191.9 320.0 L192.3 318.2 L192.7 316.4 L193.2 314.7 L193.6 312.9 L194.1 311.2 L194.5 309.6 L195.0 308.0 L195.6 306.2 L196.1 304.4 L196.7 302.7 L197.3 301.2 L198.0 300.0 L199.2 298.8 L200.5 298.0 L202.7 297.5 L205.0 298.2 L207.3 300.0 L208.0 301.2 L208.7 302.7 L209.3 304.3 L210.0 306.0 L210.6 307.4 L211.1 309.0 L211.6 310.5 L212.2 312.2 L212.8 313.8 L213.5 315.4 L214.3 316.9 L215.1 318.5 L216.0 320.1 L216.9 321.7 L217.8 323.2 L218.7 324.8 L219.6 326.2 L220.5 327.9 L221.4 329.6 L222.3 331.2 L223.2 332.7 L224.3 333.9 L225.7 334.9 L227.3 335.6 L228.9 336.2 L230.4 337.0 L231.9 338.2 L233.2 339.5 L234.6 340.8 L235.7 342.0 L236.8 342.8 L237.9 344.3 L239.2 346.2 L240.6 345.5 L242.2 346.7 L243.8 347.3 L245.4 348.5 L246.9 348.9 L248.4 349.6 L250.0 349.2 L251.5 350.0 L253.1 350.5 L254.6 352.1 L256.0 352.9 L257.4 352.1 L259.0 352.8 L260.8 353.4 L262.1 353.7 L263.4 354.4 L264.9 354.8 L266.4 354.3 L267.9 354.0 L269.6 354.9 L271.2 354.9 L272.9 355.3 L274.7 356.1 L276.4 355.7 L278.2 355.4 L280.0 355.7 L281.5 355.9 L283.0 354.8 L284.5 356.4 L286.1 356.2 L287.6 356.4 L289.2 356.3 L290.8 355.6 L292.5 355.7 L294.1 355.2 L295.8 356.1 L297.5 355.1 L299.2 355.1 L300.9 355.4 L302.7 355.3 L304.5 355.7 L306.3 355.2 L308.1 355.1 L310.0 355.4 L311.4 355.3 L312.9 355.8 L314.3 355.2 L315.8 356.7 L317.3 356.2 L318.9 355.4 L320.4 355.6 L322.0 355.8 L323.6 355.8 L325.2 355.4 L326.8 356.7 L328.4 356.9 L330.1 356.0 L331.7 356.0 L333.4 355.3 L335.0 355.3 L336.7 355.8 L338.4 355.6 L340.1 356.6 L341.7 355.4 L343.4 355.2 L345.1 356.8 L346.8 356.1 L348.5 355.4 L350.1 356.1 L351.8 355.2 L353.5 356.1 L355.1 356.9 L356.7 356.7 L358.4 356.4 L360.0 355.6" fill="none" stroke="#3db54e" stroke-width="1.3" stroke-linejoin="round"/>
<path d="M160.0 357.0 L161.7 357.0 L163.5 357.0 L165.4 357.0 L167.3 357.1 L169.3 357.1 L171.2 357.2 L173.2 357.2 L175.2 357.2 L177.1 357.3 L179.0 357.3 L180.9 357.3 L182.6 357.3 L184.3 357.3 L185.9 357.3 L187.4 357.2 L188.8 357.2 L190.0 357.0 L191.0 356.9 L191.9 356.7 L193.7 355.9 L195.0 355.0 L196.5 353.9 L198.0 352.4 L198.8 351.3 L199.7 349.9 L200.6 348.3 L201.5 346.6 L202.4 344.9 L203.3 343.2 L204.2 341.6 L205.1 340.0 L206.0 338.5 L206.8 336.9 L207.7 335.4 L208.6 333.8 L209.5 332.3 L210.4 330.8 L211.4 329.2 L212.4 327.6 L213.4 326.0 L214.5 324.5 L215.5 323.0 L216.6 321.6 L217.8 320.2 L219.1 318.8 L220.3 317.4 L221.5 316.3 L222.7 315.4 L224.3 314.5 L226.0 314.0 L228.1 313.9 L230.4 313.9 L232.2 313.7 L234.2 313.5 L236.2 313.4 L237.6 313.4 L239.2 314.8 L240.8 315.0 L242.4 316.0 L243.9 316.0 L245.4 316.6 L247.0 318.3 L248.6 319.5 L250.1 320.2 L251.6 321.1 L253.1 322.1 L254.4 322.9 L255.7 323.1 L257.0 324.7 L258.2 325.5 L259.5 326.0 L260.8 326.9 L262.3 328.4 L263.9 329.3 L265.4 330.9 L267.0 332.2 L268.5 332.3 L270.0 334.0 L271.6 335.1 L273.1 336.0 L274.6 335.9 L276.2 336.6 L277.7 337.3 L279.2 338.1 L280.8 338.8 L282.3 340.1 L283.9 341.0 L285.8 341.3 L287.7 340.9 L289.7 341.4 L291.6 341.8 L293.5 340.9 L295.4 342.1 L297.3 342.8 L299.3 342.9 L300.8 343.0 L302.3 342.8 L303.8 342.5 L305.4 343.7 L307.0 343.2 L308.7 344.1 L310.4 344.7 L312.0 344.0 L313.7 344.3 L315.3 345.4 L317.1 345.4 L318.8 344.8 L320.6 345.0 L322.3 345.3 L324.1 346.7 L325.8 346.7 L327.5 345.7 L329.2 346.8 L330.9 347.1 L332.6 346.5 L334.4 346.0 L336.1 346.2 L337.8 345.5 L339.5 345.4 L341.2 347.0 L343.0 346.6 L344.9 346.7 L346.8 347.7 L348.8 347.2 L350.7 348.3 L352.5 348.5 L354.1 347.6 L355.5 347.7 L356.6 347.6 L358.1 346.5 L359.2 345.7" fill="none" stroke="#164f88" stroke-width="1.3" stroke-linejoin="round"/>
<path d="M160.0 357.0 L161.7 357.0 L163.6 357.1 L165.5 357.2 L167.3 357.3 L169.2 357.4 L170.9 357.4 L172.5 357.3 L173.9 357.1 L175.0 356.7 L176.8 355.1 L178.0 353.0 L178.8 351.5 L179.6 349.8 L180.4 348.0 L181.1 346.2 L181.6 344.8 L182.1 343.3 L182.6 341.7 L183.0 340.2 L183.5 338.6 L184.0 337.0 L184.5 335.5 L185.0 334.0 L185.5 332.4 L185.9 330.9 L186.4 329.3 L186.9 327.7 L187.3 326.2 L187.7 324.5 L188.1 322.7 L188.4 321.0 L188.8 319.3 L189.1 317.6 L189.5 316.0 L189.9 314.2 L190.4 312.4 L190.9 310.7 L191.4 309.1 L191.9 307.7 L192.9 305.6 L194.0 304.0 L196.5 302.3 L199.0 302.5 L200.2 303.2 L201.5 304.2 L202.8 305.4 L204.2 306.8 L205.2 308.0 L206.3 309.3 L207.3 310.7 L208.4 312.2 L209.5 313.7 L210.7 315.2 L211.9 316.6 L213.0 317.8 L214.1 319.1 L215.3 320.4 L216.5 321.7 L217.8 323.0 L219.0 324.2 L220.3 325.4 L221.5 326.5 L222.7 327.6 L224.0 328.7 L225.4 329.8 L226.8 330.8 L228.2 331.7 L229.5 332.6 L230.8 333.4 L232.0 334.2 L233.5 335.1 L234.9 335.8 L236.2 336.5 L237.7 337.2 L239.2 338.0 L240.7 338.5 L242.3 339.6 L243.8 340.1 L245.4 342.0 L246.9 341.9 L248.5 342.8 L250.0 343.6 L251.5 344.7 L253.1 344.6 L254.6 345.8 L256.2 345.7 L257.7 346.2 L259.3 346.6 L260.8 346.3 L262.7 347.3 L264.6 347.3 L266.6 347.4 L268.5 348.9 L270.4 348.4 L272.2 349.3 L274.1 350.0 L276.2 350.2 L277.7 350.1 L279.2 350.6 L280.9 351.0 L282.6 351.5 L284.4 350.9 L286.2 351.8 L288.0 351.6 L289.8 351.9 L291.6 352.8 L293.2 352.6 L294.8 352.9 L296.5 353.4 L298.1 353.8 L299.8 353.3 L301.5 353.7 L303.2 353.8 L304.9 353.9 L306.6 354.3 L308.3 354.1 L310.0 354.3 L311.6 354.3 L313.2 355.1 L314.8 354.8 L316.5 355.0 L318.1 355.1 L319.7 354.2 L321.3 354.6 L323.0 355.1 L324.7 355.0 L326.4 354.0 L328.2 354.0 L330.0 354.4 L331.5 353.9 L333.1 354.2 L334.6 354.0 L336.3 354.8 L337.9 355.0 L339.6 355.2 L341.2 354.2 L342.9 355.0 L344.6 355.0 L346.3 354.3 L348.1 355.3 L349.8 355.5 L351.5 354.5 L353.2 355.5 L354.9 354.8 L356.6 354.9 L358.3 355.7 L360.0 355.5" fill="none" stroke="#c8202f" stroke-width="1.5" stroke-linejoin="round" stroke-dasharray="1.9 1.3"/>
<path d="M160.0 357.0 L161.8 357.1 L163.7 357.3 L165.6 357.5 L167.5 357.6 L169.0 357.3 L170.3 356.7 L171.1 355.7 L171.6 354.2 L171.9 352.6 L172.0 350.7 L172.1 348.8 L172.3 346.8 L172.5 345.0 L172.8 343.5 L173.0 342.0 L173.3 340.5 L173.6 339.0 L173.9 337.4 L174.1 335.8 L174.4 334.2 L174.7 332.5 L175.0 330.8 L175.2 329.3 L175.5 327.7 L175.8 326.0 L176.0 324.2 L176.3 322.4 L176.6 320.6 L176.8 318.8 L177.1 317.0 L177.4 315.3 L177.7 313.5 L178.0 311.9 L178.2 310.4 L178.5 309.0 L178.8 307.7 L179.3 305.9 L179.7 304.4 L180.2 303.0 L180.6 301.5 L181.1 300.0 L181.5 298.4 L181.9 296.7 L182.3 294.9 L182.6 293.2 L183.1 291.5 L183.5 290.0 L184.3 287.5 L185.1 285.2 L186.0 284.2 L186.8 285.2 L187.7 287.4 L188.5 290.0 L188.9 291.3 L189.3 292.9 L189.7 294.5 L190.0 296.2 L190.4 298.0 L190.8 299.8 L191.2 301.5 L191.5 303.1 L191.9 304.6 L192.4 306.6 L193.0 308.5 L193.5 310.3 L194.0 312.0 L194.6 313.5 L195.3 315.5 L196.1 317.3 L197.0 318.2 L199.6 316.6 L200.5 317.6 L201.3 319.4 L202.0 321.5 L202.6 323.1 L203.1 324.9 L203.7 326.8 L204.3 328.7 L205.0 330.5 L205.7 332.1 L206.5 333.8 L207.3 335.5 L208.3 337.1 L209.3 338.7 L210.4 340.1 L211.5 341.3 L212.8 342.3 L214.1 343.4 L215.5 344.3 L216.9 345.2 L218.3 346.1 L219.6 347.0 L221.1 348.0 L222.6 349.0 L224.0 349.9 L225.5 350.1 L227.0 351.4 L228.6 352.3 L230.2 352.6 L231.9 353.0 L233.5 353.8 L235.0 355.1 L236.7 354.5 L238.3 356.1 L240.0 356.4 L241.9 355.8 L244.0 356.3 L246.0 356.7 L248.0 356.5 L250.0 355.7 L252.0 357.4 L254.0 357.0 L256.0 357.3 L258.0 355.8 L260.0 356.1 L262.0 355.7 L264.0 357.0 L266.0 356.1 L268.0 355.8 L270.0 356.4 L272.0 357.2 L274.0 357.1 L276.0 356.1 L278.0 355.9 L280.0 357.3 L282.0 356.6 L284.0 356.9 L286.0 355.8 L288.0 355.7 L290.0 356.8 L292.0 356.4 L294.0 355.7 L296.0 357.3 L298.0 356.7 L300.0 357.0 L302.0 355.8 L304.0 357.1 L306.0 355.7 L308.0 357.2 L310.0 356.4 L312.0 356.2 L314.0 356.6 L316.0 357.3 L318.0 356.1 L320.0 355.8 L322.0 356.5 L324.0 356.0 L326.0 355.8 L328.0 355.9 L330.0 355.7 L332.0 356.0 L334.0 356.2 L336.0 356.1 L338.0 357.0 L340.0 356.1 L342.0 356.5 L344.0 355.9 L346.0 356.2 L348.0 355.6 L350.0 356.1 L352.0 355.6 L354.0 356.9 L356.0 356.6 L358.0 355.9 L360.0 356.5" fill="none" stroke="#164f88" stroke-width="1.5" stroke-linejoin="round" stroke-dasharray="1.9 1.3"/>
<path d="M160.0 357.0 L162.1 357.0 L164.1 356.9 L166.0 356.8 L168.0 356.8 L169.6 356.2 L170.2 355.3 L170.6 354.0 L170.8 352.4 L171.0 350.6 L171.1 348.7 L171.3 346.8 L171.5 345.0 L171.7 343.3 L172.0 341.6 L172.2 339.9 L172.5 338.2 L172.7 336.4 L172.9 334.6 L173.2 332.7 L173.4 330.8 L173.6 329.3 L173.8 327.6 L173.9 325.9 L174.1 324.2 L174.3 322.4 L174.5 320.6 L174.6 318.8 L174.8 317.0 L175.0 315.3 L175.2 313.7 L175.3 312.1 L175.5 310.6 L175.7 309.2 L176.0 307.2 L176.3 305.4 L176.7 303.7 L177.0 302.0 L177.3 300.0 L177.5 298.6 L177.7 297.0 L177.9 295.3 L178.1 293.6 L178.3 291.9 L178.5 290.1 L178.7 288.3 L178.9 286.6 L179.1 284.9 L179.3 283.4 L179.5 282.0 L179.9 279.8 L180.2 277.5 L180.6 275.5 L181.0 274.0 L181.4 273.4 L181.9 274.1 L182.5 275.8 L183.0 277.9 L183.5 280.0 L183.9 281.5 L184.2 283.2 L184.5 284.9 L184.8 286.6 L185.1 288.3 L185.5 290.0 L186.0 291.7 L186.5 293.3 L187.0 294.9 L187.6 296.5 L188.2 298.2 L188.8 300.0 L189.2 301.4 L189.6 302.9 L190.1 304.5 L190.5 306.1 L190.9 307.7 L191.3 309.3 L191.8 310.9 L192.3 312.5 L192.8 314.0 L193.4 315.4 L194.2 317.1 L195.0 318.7 L196.0 320.3 L196.9 321.8 L197.8 323.3 L198.7 324.8 L199.6 326.2 L200.5 327.8 L201.4 329.4 L202.2 330.9 L203.1 332.4 L204.2 333.9 L205.3 335.2 L206.6 336.5 L207.9 337.8 L209.2 339.1 L210.6 340.3 L211.9 341.6 L213.2 342.9 L214.4 344.3 L215.7 345.7 L217.0 347.0 L218.3 348.2 L219.6 349.3 L221.1 350.3 L222.6 351.1 L224.2 351.9 L225.7 353.3 L227.3 352.5 L228.8 354.3 L230.4 354.2 L232.0 354.7 L233.6 355.8 L235.0 355.3 L236.7 355.9 L238.3 356.5 L240.0 357.2 L242.0 356.1 L244.0 356.9 L246.0 356.7 L248.0 356.5 L250.0 356.1 L252.0 356.0 L254.0 355.5 L256.0 355.6 L258.0 355.5 L260.0 356.7 L262.0 355.9 L264.0 355.7 L266.0 355.6 L268.0 356.9 L270.0 357.0 L272.0 356.6 L274.0 355.9 L276.0 355.8 L278.0 355.9 L280.0 356.2 L282.0 355.7 L284.0 356.2 L286.0 355.9 L288.0 357.1 L290.0 357.2 L292.0 356.4 L294.0 355.8 L296.0 357.1 L298.0 356.0 L300.0 356.0 L302.0 355.4 L304.0 356.1 L306.0 356.3 L308.0 356.3 L310.0 355.8 L312.0 356.3 L314.0 355.4 L316.0 355.9 L318.0 355.6 L320.0 356.1 L322.0 355.5 L324.0 355.4 L326.0 355.9 L328.0 355.8 L330.0 356.5 L332.0 356.4 L334.0 356.8 L336.0 356.6 L338.0 356.7 L340.0 357.0 L342.0 356.1 L344.0 356.0 L346.0 357.2 L348.0 355.7 L350.0 356.7 L352.0 356.6 L354.0 355.5 L356.0 356.9 L358.0 357.0 L360.0 356.5" fill="none" stroke="#3db54e" stroke-width="1.5" stroke-linejoin="round" stroke-dasharray="1.9 1.3"/>
<path d="M160.0 357.2 L161.7 357.2 L163.4 357.2 L165.1 357.2 L166.9 357.2 L168.7 357.2 L170.6 357.2 L172.4 357.2 L174.3 357.2 L176.2 357.3 L178.1 357.3 L180.0 357.3 L181.9 357.3 L183.8 357.3 L185.7 357.4 L187.5 357.4 L189.3 357.4 L191.1 357.4 L192.9 357.4 L194.6 357.4 L196.2 357.4 L197.8 357.4 L199.4 357.3 L200.8 357.3 L202.2 357.2 L203.6 357.2 L204.8 357.1 L205.9 357.0 L207.0 356.9 L207.9 356.8 L208.8 356.7 L210.9 356.2 L212.5 355.6 L214.0 355.0 L215.8 354.3 L217.6 353.4 L219.6 352.4 L221.1 351.5 L222.7 350.5 L224.4 349.4 L226.0 348.3 L227.6 347.2 L228.9 346.2 L230.4 344.9 L231.7 343.7 L233.0 342.5 L234.5 341.4 L236.0 340.3 L237.7 339.3 L239.1 338.5 L240.6 338.1 L242.2 337.4 L243.8 335.5 L245.4 335.4 L246.9 334.7 L248.5 334.6 L250.0 333.9 L251.5 333.4 L253.1 332.5 L255.0 332.5 L256.9 331.8 L258.9 331.4 L260.8 330.4 L262.7 329.8 L264.5 329.7 L266.4 329.9 L268.5 329.4 L270.0 330.5 L271.6 330.1 L273.3 330.3 L275.1 330.4 L276.9 330.6 L278.8 330.4 L280.5 329.8 L282.3 331.2 L283.9 331.2 L285.9 330.9 L287.9 331.1 L289.9 331.4 L291.8 330.6 L293.5 331.8 L295.0 331.2 L297.2 331.3 L299.3 332.0 L300.6 333.1 L302.0 332.7 L303.6 334.0 L305.2 334.8 L306.9 334.5 L308.7 334.8 L310.4 335.4 L312.0 336.0 L313.6 336.4 L315.3 336.4 L317.1 336.7 L318.8 336.1 L320.6 336.4 L322.3 336.8 L324.1 337.8 L325.8 337.4 L327.5 338.1 L329.2 337.4 L330.9 337.8 L332.6 338.4 L334.3 339.3 L336.0 339.6 L337.7 339.8 L339.4 339.4 L341.2 340.0 L342.7 340.1 L344.3 340.3 L345.9 340.0 L347.5 341.4 L349.1 340.5 L350.7 341.9 L352.3 342.0 L353.9 340.7 L355.5 341.6 L357.1 342.3 L358.7 342.7" fill="none" stroke="#c8202f" stroke-width="1.3" stroke-linejoin="round"/>
<line x1="359.7" y1="342" x2="359.7" y2="358" stroke="#c8202f" stroke-width="1.2"/>
<path d="M157.0 358.8 L158.3 358.2 L160.0 357.6 L160.7 357.5 L161.6 357.4 L162.6 357.3 L163.8 357.3 L165.1 357.2 L166.5 357.2 L168.0 357.2 L169.6 357.2 L171.4 357.2 L173.2 357.2 L175.0 357.3 L177.0 357.3 L178.9 357.3 L180.9 357.4 L183.0 357.4 L185.0 357.5 L187.1 357.5 L189.2 357.5 L191.2 357.6 L193.3 357.6 L195.3 357.6 L197.2 357.6 L199.1 357.6 L200.9 357.6 L202.7 357.6 L204.4 357.6 L205.9 357.5 L207.4 357.4 L208.7 357.3 L210.0 357.2 L211.1 357.1 L212.0 356.9 L214.3 356.3 L216.0 355.6 L217.5 354.8 L219.0 354.0 L220.7 352.8 L222.3 351.5 L224.0 350.3 L225.4 349.6 L226.9 349.1 L228.5 348.6 L230.0 347.8 L231.3 346.9 L232.5 345.9 L233.8 344.8 L235.1 343.7 L236.4 342.6 L237.7 341.6 L239.2 340.6 L240.7 339.5 L242.3 338.3 L243.8 337.4 L245.4 337.7 L246.9 335.8 L248.5 335.6 L250.0 334.2 L251.5 334.2 L253.1 334.3 L255.0 332.4 L256.9 333.0 L258.9 332.1 L260.8 332.2 L262.7 331.5 L264.5 330.3 L266.4 331.0 L268.5 330.0 L270.0 329.1 L271.6 328.9 L273.3 329.5 L275.1 329.3 L276.9 329.0 L278.8 328.7 L280.5 329.0 L282.3 329.0 L283.9 329.8 L285.6 328.6 L287.2 330.0 L288.7 330.3 L290.2 329.4 L291.8 331.0 L293.3 330.9 L295.0 331.4 L296.6 330.7 L298.3 331.1 L299.9 331.4 L301.7 332.6 L303.4 332.2 L305.2 332.1 L306.9 332.5 L308.7 332.5 L310.4 332.4 L312.1 332.7 L313.8 334.1 L315.5 333.5 L317.2 334.8 L319.0 334.0 L320.7 334.3 L322.4 334.9 L324.1 334.6 L325.8 335.2 L327.5 336.4 L329.2 336.5 L330.9 336.7 L332.6 336.6 L334.4 337.3 L336.1 337.6 L337.8 337.3 L339.5 337.8 L341.2 337.0 L343.0 338.3 L344.8 338.2 L346.8 338.9 L348.7 339.1 L350.6 338.8 L352.3 338.7 L354.0 340.3 L355.4 339.2 L356.6 340.0 L359.7 340.1" fill="none" stroke="#f7941d" stroke-width="1.8" stroke-linejoin="round"/>
<line x1="175.3" y1="205" x2="184" y2="205" stroke="#c8202f" stroke-width="1.5"/>
<text x="187.3" y="208" font-size="8.2" fill="#222" textLength="3.65" lengthAdjust="spacingAndGlyphs">1</text>
<line x1="175.3" y1="213.4" x2="184" y2="213.4" stroke="#164f88" stroke-width="1.5"/>
<text x="187.3" y="216.4" font-size="8.2" fill="#222" textLength="9.12" lengthAdjust="spacingAndGlyphs">0.5</text>
<line x1="175.3" y1="221.6" x2="184" y2="221.6" stroke="#3db54e" stroke-width="1.5"/>
<text x="187.3" y="224.6" font-size="8.2" fill="#222" textLength="12.77" lengthAdjust="spacingAndGlyphs">0.25</text>
<rect x="175.3" y="229.39999999999998" width="1.6" height="1.6" fill="#c8202f"/>
<rect x="177.95000000000002" y="229.39999999999998" width="1.6" height="1.6" fill="#c8202f"/>
<rect x="180.60000000000002" y="229.39999999999998" width="1.6" height="1.6" fill="#c8202f"/>
<rect x="183.25" y="229.39999999999998" width="1.6" height="1.6" fill="#c8202f"/>
<text x="187.3" y="233.2" font-size="8.2" fill="#222" textLength="3.65" lengthAdjust="spacingAndGlyphs">1</text>
<rect x="175.3" y="238.1" width="1.6" height="1.6" fill="#164f88"/>
<rect x="177.95000000000002" y="238.1" width="1.6" height="1.6" fill="#164f88"/>
<rect x="180.60000000000002" y="238.1" width="1.6" height="1.6" fill="#164f88"/>
<rect x="183.25" y="238.1" width="1.6" height="1.6" fill="#164f88"/>
<text x="187.3" y="241.9" font-size="8.2" fill="#222" textLength="9.12" lengthAdjust="spacingAndGlyphs">0.5</text>
<rect x="175.3" y="246.6" width="1.6" height="1.6" fill="#3db54e"/>
<rect x="177.95000000000002" y="246.6" width="1.6" height="1.6" fill="#3db54e"/>
<rect x="180.60000000000002" y="246.6" width="1.6" height="1.6" fill="#3db54e"/>
<rect x="183.25" y="246.6" width="1.6" height="1.6" fill="#3db54e"/>
<text x="187.3" y="250.4" font-size="8.2" fill="#222" textLength="12.77" lengthAdjust="spacingAndGlyphs">0.25</text>
<line x1="175.3" y1="255.8" x2="184" y2="255.8" stroke="#5e2a78" stroke-width="1.5"/>
<text x="187.3" y="258.8" font-size="8.2" fill="#222" textLength="21.14" lengthAdjust="spacingAndGlyphs">BDEVs</text>
<line x1="175.3" y1="263.8" x2="184" y2="263.8" stroke="#f7941d" stroke-width="1.5"/>
<text x="187.3" y="266.8" font-size="8.2" fill="#222" textLength="18.23" lengthAdjust="spacingAndGlyphs">Plasm</text>
<path d="M203.3 201.3 H204.8 V224.5 H203.3" fill="none" stroke="#333" stroke-width="0.9"/>
<path d="M203.3 227.6 H204.8 V249.9 H203.3" fill="none" stroke="#333" stroke-width="0.9"/>
<text x="208.4" y="215.7" font-size="8.3" fill="#222" textLength="36.6" lengthAdjust="spacingAndGlyphs">ANV-6L15</text>
<text x="208.4" y="241.1" font-size="8.3" fill="#222" textLength="36.4" lengthAdjust="spacingAndGlyphs">Annexin V</text>
<line x1="285.5" y1="216.4" x2="285.5" y2="301.3" stroke="#4a4a4a" stroke-width="1.3"/>
<line x1="282.8" y1="301.0" x2="285.6" y2="301.0" stroke="#3a3a3a" stroke-width="1"/>
<text x="279.6" y="304.0" font-size="9.5" fill="#222" text-anchor="end" textLength="5.02" lengthAdjust="spacingAndGlyphs">0</text>
<line x1="282.8" y1="288.95" x2="285.6" y2="288.95" stroke="#3a3a3a" stroke-width="1"/>
<text x="279.6" y="291.95" font-size="9.5" fill="#222" text-anchor="end" textLength="8.45" lengthAdjust="spacingAndGlyphs">20</text>
<line x1="282.8" y1="276.9" x2="285.6" y2="276.9" stroke="#3a3a3a" stroke-width="1"/>
<text x="279.6" y="279.9" font-size="9.5" fill="#222" text-anchor="end" textLength="8.45" lengthAdjust="spacingAndGlyphs">40</text>
<line x1="282.8" y1="264.85" x2="285.6" y2="264.85" stroke="#3a3a3a" stroke-width="1"/>
<text x="279.6" y="267.85" font-size="9.5" fill="#222" text-anchor="end" textLength="8.45" lengthAdjust="spacingAndGlyphs">60</text>
<line x1="282.8" y1="252.8" x2="285.6" y2="252.8" stroke="#3a3a3a" stroke-width="1"/>
<text x="279.6" y="255.8" font-size="9.5" fill="#222" text-anchor="end" textLength="8.45" lengthAdjust="spacingAndGlyphs">80</text>
<line x1="282.8" y1="240.75" x2="285.6" y2="240.75" stroke="#3a3a3a" stroke-width="1"/>
<text x="279.6" y="243.75" font-size="9.5" fill="#222" text-anchor="end" textLength="12.68" lengthAdjust="spacingAndGlyphs">100</text>
<line x1="282.8" y1="228.7" x2="285.6" y2="228.7" stroke="#3a3a3a" stroke-width="1"/>
<text x="279.6" y="231.7" font-size="9.5" fill="#222" text-anchor="end" textLength="12.68" lengthAdjust="spacingAndGlyphs">120</text>
<line x1="282.8" y1="216.64999999999998" x2="285.6" y2="216.64999999999998" stroke="#3a3a3a" stroke-width="1"/>
<text x="279.6" y="219.64999999999998" font-size="9.5" fill="#222" text-anchor="end" textLength="12.68" lengthAdjust="spacingAndGlyphs">140</text>
<line x1="285" y1="301.2" x2="365.4" y2="301.2" stroke="#3a3a3a" stroke-width="1"/>
<rect x="290.6" y="257.6" width="6.899999999999977" height="43.39999999999998" fill="#c8202f"/>
<line x1="294.05" y1="249.6" x2="294.05" y2="257.6" stroke="#555" stroke-width="1"/>
<line x1="292.75" y1="250.1" x2="295.35" y2="250.1" stroke="#555" stroke-width="1"/>
<rect x="298" y="236.2" width="6.699999999999989" height="64.80000000000001" fill="#164f88"/>
<line x1="301.35" y1="224.7" x2="301.35" y2="236.2" stroke="#555" stroke-width="1"/>
<line x1="300.05" y1="225.2" x2="302.65000000000003" y2="225.2" stroke="#555" stroke-width="1"/>
<rect x="309.6" y="271.2" width="6.699999999999989" height="29.80000000000001" fill="#c8202f"/>
<line x1="312.95000000000005" y1="263.7" x2="312.95000000000005" y2="271.2" stroke="#555" stroke-width="1"/>
<line x1="311.65000000000003" y1="264.2" x2="314.25000000000006" y2="264.2" stroke="#555" stroke-width="1"/>
<rect x="316.8" y="251.7" width="6.899999999999977" height="49.30000000000001" fill="#164f88"/>
<line x1="320.25" y1="243.4" x2="320.25" y2="251.7" stroke="#555" stroke-width="1"/>
<line x1="318.95" y1="243.9" x2="321.55" y2="243.9" stroke="#555" stroke-width="1"/>
<rect x="328.4" y="282" width="6.900000000000034" height="19" fill="#c8202f"/>
<line x1="331.85" y1="278.1" x2="331.85" y2="282" stroke="#555" stroke-width="1"/>
<line x1="330.55" y1="278.6" x2="333.15000000000003" y2="278.6" stroke="#555" stroke-width="1"/>
<rect x="335.6" y="259.4" width="6.899999999999977" height="41.60000000000002" fill="#164f88"/>
<line x1="339.05" y1="251.2" x2="339.05" y2="259.4" stroke="#555" stroke-width="1"/>
<line x1="337.75" y1="251.7" x2="340.35" y2="251.7" stroke="#555" stroke-width="1"/>
<rect x="347.1" y="222.9" width="6.899999999999977" height="78.1" fill="#5e2a78"/>
<line x1="350.55" y1="215.7" x2="350.55" y2="222.9" stroke="#555" stroke-width="1"/>
<line x1="349.25" y1="216.2" x2="351.85" y2="216.2" stroke="#555" stroke-width="1"/>
<rect x="354.9" y="284" width="6.600000000000023" height="17" fill="#f7941d"/>
<line x1="358.2" y1="276.3" x2="358.2" y2="284" stroke="#555" stroke-width="1"/>
<line x1="356.9" y1="276.8" x2="359.5" y2="276.8" stroke="#555" stroke-width="1"/>
<text x="350.6" y="216" font-size="8" fill="#222" text-anchor="middle">*</text>
<text x="288.3" y="219.2" font-size="8.4" fill="#222" textLength="20.3" lengthAdjust="spacingAndGlyphs">p&lt;0.05</text>
<line x1="288.5" y1="221.4" x2="308" y2="221.4" stroke="#444" stroke-width="1"/>
<text x="305.8" y="238.3" font-size="8.4" fill="#222" textLength="20.2" lengthAdjust="spacingAndGlyphs">p&lt;0.05</text>
<line x1="306" y1="240.4" x2="325.3" y2="240.4" stroke="#444" stroke-width="1"/>
<text x="326.3" y="245.6" font-size="8.4" fill="#222" textLength="19.3" lengthAdjust="spacingAndGlyphs">p&lt;0.01</text>
<line x1="326.3" y1="248.2" x2="345" y2="248.2" stroke="#444" stroke-width="1"/>
<rect x="302.3" y="193" width="9.4" height="4.4" fill="#c8202f"/>
<rect x="302.3" y="203.2" width="9.4" height="4.5" fill="#164f88"/>
<text x="314.9" y="198" font-size="8.3" fill="#222" textLength="34.4" lengthAdjust="spacingAndGlyphs">ANV-6L15</text>
<text x="314.9" y="208.2" font-size="8.3" fill="#222" textLength="34.4" lengthAdjust="spacingAndGlyphs">Annexin V</text>
<text x="289.6" y="309.9" font-size="8.2" fill="#222" textLength="15.8" lengthAdjust="spacingAndGlyphs">0.25</text>
<text x="310.9" y="309.9" font-size="8.2" fill="#222" textLength="11" lengthAdjust="spacingAndGlyphs">0.5</text>
<text x="329.4" y="309.9" font-size="8.2" fill="#222" textLength="11.4" lengthAdjust="spacingAndGlyphs">1.0</text>
<line x1="290.3" y1="313" x2="341.9" y2="313" stroke="#686868" stroke-width="1.4"/>
<text x="294.8" y="322.6" font-size="8.6" fill="#222" textLength="43.6" lengthAdjust="spacingAndGlyphs">Dose (µg/ml)</text>
<text x="353" y="324.1" font-size="8.2" fill="#222" textLength="19.6" lengthAdjust="spacingAndGlyphs" transform="rotate(-90 353 324.1)">BDEV</text>
<text x="360.4" y="324.7" font-size="8.2" fill="#222" textLength="20.2" lengthAdjust="spacingAndGlyphs" transform="rotate(-90 360.4 324.7)">Plasm</text>
<text x="260.5" y="257.9" font-size="8.6" fill="#222" text-anchor="middle" textLength="90.6" lengthAdjust="spacingAndGlyphs" transform="rotate(-90 260.5 257.9)">Thrombin generation (nM)</text>
<text x="376.4" y="210.7" font-size="11.2" fill="#000" font-weight="bold">F</text>
<line x1="412.3" y1="216.6" x2="412.3" y2="340.3" stroke="#4a4a4a" stroke-width="1.3"/>
<line x1="409.3" y1="339.9" x2="412.2" y2="339.9" stroke="#3a3a3a" stroke-width="1"/>
<text x="406.4" y="342.9" font-size="9.5" fill="#222" text-anchor="end" textLength="5.02" lengthAdjust="spacingAndGlyphs">0</text>
<line x1="409.3" y1="319.94" x2="412.2" y2="319.94" stroke="#3a3a3a" stroke-width="1"/>
<text x="406.4" y="322.94" font-size="9.5" fill="#222" text-anchor="end" textLength="12.68" lengthAdjust="spacingAndGlyphs">200</text>
<line x1="409.3" y1="299.97999999999996" x2="412.2" y2="299.97999999999996" stroke="#3a3a3a" stroke-width="1"/>
<text x="406.4" y="302.97999999999996" font-size="9.5" fill="#222" text-anchor="end" textLength="12.68" lengthAdjust="spacingAndGlyphs">400</text>
<line x1="409.3" y1="280.02" x2="412.2" y2="280.02" stroke="#3a3a3a" stroke-width="1"/>
<text x="406.4" y="283.02" font-size="9.5" fill="#222" text-anchor="end" textLength="12.68" lengthAdjust="spacingAndGlyphs">600</text>
<line x1="409.3" y1="260.05999999999995" x2="412.2" y2="260.05999999999995" stroke="#3a3a3a" stroke-width="1"/>
<text x="406.4" y="263.05999999999995" font-size="9.5" fill="#222" text-anchor="end" textLength="12.68" lengthAdjust="spacingAndGlyphs">800</text>
<line x1="409.3" y1="240.09999999999997" x2="412.2" y2="240.09999999999997" stroke="#3a3a3a" stroke-width="1"/>
<text x="406.4" y="243.09999999999997" font-size="9.5" fill="#222" text-anchor="end" textLength="16.91" lengthAdjust="spacingAndGlyphs">1000</text>
<line x1="409.3" y1="220.14" x2="412.2" y2="220.14" stroke="#3a3a3a" stroke-width="1"/>
<text x="406.4" y="223.14" font-size="9.5" fill="#222" text-anchor="end" textLength="16.91" lengthAdjust="spacingAndGlyphs">1200</text>
<line x1="411.7" y1="340" x2="513.1" y2="340" stroke="#3a3a3a" stroke-width="1"/>
<rect x="420" y="325.2" width="11.5" height="14.400000000000034" fill="#c8202f"/>
<line x1="425.75" y1="321.2" x2="425.75" y2="325.2" stroke="#555" stroke-width="1"/>
<line x1="424.15" y1="321.7" x2="427.35" y2="321.7" stroke="#555" stroke-width="1"/>
<rect x="433.2" y="330.3" width="11.5" height="9.300000000000011" fill="#164f88"/>
<line x1="438.95" y1="327" x2="438.95" y2="330.3" stroke="#555" stroke-width="1"/>
<line x1="437.34999999999997" y1="327.5" x2="440.55" y2="327.5" stroke="#555" stroke-width="1"/>
<rect x="451.2" y="315.4" width="11.600000000000023" height="24.200000000000045" fill="#c8202f"/>
<line x1="457.0" y1="308.9" x2="457.0" y2="315.4" stroke="#555" stroke-width="1"/>
<line x1="455.4" y1="309.4" x2="458.6" y2="309.4" stroke="#555" stroke-width="1"/>
<rect x="464.9" y="327" width="11.600000000000023" height="12.600000000000023" fill="#164f88"/>
<line x1="470.7" y1="324.5" x2="470.7" y2="327" stroke="#555" stroke-width="1"/>
<line x1="469.09999999999997" y1="325.0" x2="472.3" y2="325.0" stroke="#555" stroke-width="1"/>
<rect x="482.5" y="240.1" width="11.300000000000011" height="99.50000000000003" fill="#c8202f"/>
<line x1="488.15" y1="235.9" x2="488.15" y2="240.1" stroke="#555" stroke-width="1"/>
<line x1="486.54999999999995" y1="236.4" x2="489.75" y2="236.4" stroke="#555" stroke-width="1"/>
<rect x="496.2" y="305.5" width="11.100000000000023" height="34.10000000000002" fill="#164f88"/>
<line x1="501.75" y1="300.8" x2="501.75" y2="305.5" stroke="#555" stroke-width="1"/>
<line x1="500.15" y1="301.3" x2="503.35" y2="301.3" stroke="#555" stroke-width="1"/>
<rect x="418.8" y="216.9" width="9.3" height="3.6" fill="#c8202f"/>
<rect x="418.8" y="227.3" width="9.3" height="3.6" fill="#164f88"/>
<text x="431.1" y="221.6" font-size="8.4" fill="#222" textLength="34.8" lengthAdjust="spacingAndGlyphs">ANV-6L15</text>
<text x="431.1" y="232.1" font-size="8.4" fill="#222" textLength="34.1" lengthAdjust="spacingAndGlyphs">Annexin V</text>
<text x="480.2" y="229.6" font-size="9" fill="#222" textLength="29.4" lengthAdjust="spacingAndGlyphs">p&lt;0.001</text>
<line x1="480.6" y1="232.4" x2="508.4" y2="232.4" stroke="#444" stroke-width="1"/>
<text x="448.9" y="303.2" font-size="9" fill="#222" textLength="29.9" lengthAdjust="spacingAndGlyphs">p=0.012</text>
<line x1="451.7" y1="305.5" x2="476.5" y2="305.5" stroke="#444" stroke-width="1"/>
<text x="424.8" y="353.5" font-size="8" fill="#222" textLength="15.9" lengthAdjust="spacingAndGlyphs">0.25</text>
<text x="458.4" y="353.5" font-size="8" fill="#222" textLength="11.3" lengthAdjust="spacingAndGlyphs">0.5</text>
<text x="489.8" y="353.5" font-size="8" fill="#222" textLength="10.9" lengthAdjust="spacingAndGlyphs">1.0</text>
<line x1="420.2" y1="357.4" x2="512.3" y2="357.4" stroke="#454545" stroke-width="1.1"/>
<text x="440.9" y="367.9" font-size="8.6" fill="#222" textLength="44.2" lengthAdjust="spacingAndGlyphs">Dose (µg/ml)</text>
<text x="381.3" y="273.5" font-size="8.6" fill="#222" text-anchor="middle" textLength="73.5" lengthAdjust="spacingAndGlyphs" transform="rotate(-90 381.3 273.5)">Clotting time (sec.)</text>
<rect x="0.5" y="0.5" width="519" height="388" fill="none" stroke="#111" stroke-width="1"/>
</svg>
</body></html>
